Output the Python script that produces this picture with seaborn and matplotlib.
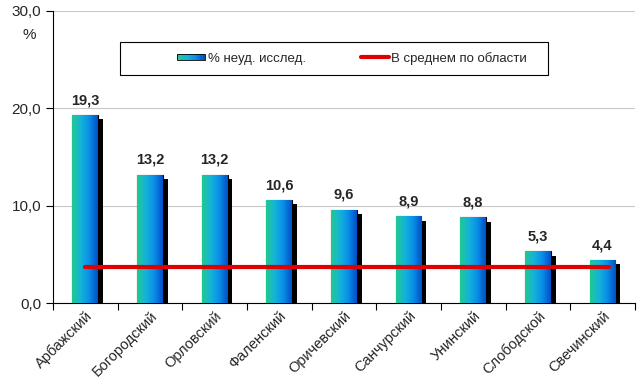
import numpy as np
import pandas as pd
import matplotlib
matplotlib.use('Agg')
import matplotlib.pyplot as plt
import seaborn as sns
from matplotlib.lines import Line2D
from matplotlib.patches import Rectangle
from matplotlib.colors import LinearSegmentedColormap
from matplotlib.legend_handler import HandlerBase
import matplotlib.patheffects as pe

# data
districts = ['Арбажский', 'Богородский', 'Орловский', 'Фаленский', 'Оричевский',
             'Санчурский', 'Унинский', 'Слободской', 'Свечинский']
values = [19.3, 13.2, 13.2, 10.6, 9.6, 8.9, 8.8, 5.3, 4.4]
region_avg = 3.7
bar_label = '% неуд. исслед.'
line_label = 'В среднем по области'

df = pd.DataFrame({'district': districts, 'value': values})

sns.set_style('white')
plt.rcParams['font.family'] = ['Liberation Sans', 'DejaVu Sans']

grad = LinearSegmentedColormap.from_list('grad', ['#22c890', '#14b4d8', '#0a8ee8', '#0050c8'])

fig = plt.figure(figsize=(6.38, 3.79), dpi=100)
ax = fig.add_axes([0.083, 0.2005, 0.912, 0.7705])

sns.barplot(data=df, x='district', y='value', ax=ax, width=0.4,
            color='#14b4d8', edgecolor='black', linewidth=0.8, zorder=3)

# gradient fill + shadow for each bar
gimg = np.linspace(0, 1, 64).reshape(1, -1)
for p in ax.patches:
    x0, y0 = p.get_x(), p.get_y()
    w, h = p.get_width(), p.get_height()
    p.set_path_effects([pe.SimplePatchShadow(offset=(3.5, -3), shadow_rgbFace='black', alpha=1.0), pe.Normal()])
    im = ax.imshow(gimg, cmap=grad, aspect='auto', extent=[x0, x0 + w, y0, y0 + h],
                   zorder=3.5, interpolation='bilinear')
    im.set_clip_path(p)

ax.set_xlim(-0.5, len(districts) - 0.5)
ax.set_ylim(0, 30)
ax.set_yticks([0, 10, 20, 30])
ax.set_yticklabels(['0,0', '10,0', '20,0', '30,0'], fontsize=11)
ax.yaxis.grid(True, color='#c8c8c8', linewidth=0.8, zorder=0)
ax.set_axisbelow(True)

# average line
ax.plot([0, len(districts) - 0.9], [region_avg, region_avg], color='#e00000', linewidth=3, zorder=5)

# value labels
for i, v in enumerate(values):
    ax.text(i, v + 0.8, f'{v:.1f}'.replace('.', ','), ha='center', va='bottom',
            fontsize=10.5, fontweight='bold', zorder=6)

ax.set_xlabel('')
ax.set_ylabel('')
ax.set_xticks(range(len(districts)))
ax.set_xticklabels(districts, rotation=45, ha='right', rotation_mode='anchor', fontsize=10.5)
ax.set_xticks(np.arange(-0.5, len(districts)), minor=True)
ax.tick_params(axis='x', which='major', length=0, pad=4)
ax.tick_params(axis='x', which='minor', length=5, width=0.8, color='black', direction='out', bottom=True)
ax.tick_params(axis='y', length=5, width=0.8, color='black', direction='out', left=True)
for s in ['top', 'right']:
    ax.spines[s].set_visible(False)
for s in ['left', 'bottom']:
    ax.spines[s].set_color('black')
    ax.spines[s].set_linewidth(0.8)

fig.text(0.046, 0.925, '%', fontsize=11, ha='center', va='top')


class GradHandler(HandlerBase):
    def create_artists(self, legend, orig, xd, yd, width, height, fontsize, trans):
        arts = []
        n = 12
        for k in range(n):
            r = Rectangle((xd + width * k / n, yd + height * 0.15), width / n + 0.3, height * 0.7,
                          facecolor=grad(k / (n - 1)), edgecolor='none', transform=trans)
            arts.append(r)
        arts.append(Rectangle((xd, yd + height * 0.15), width, height * 0.7, facecolor='none',
                              edgecolor='black', linewidth=0.6, transform=trans))
        return arts


# legend frame drawn separately (wide left padding as in the original)
fig.patches.append(Rectangle((0.188, 0.802), 0.671, 0.087, transform=fig.transFigure,
                             facecolor='white', edgecolor='black', linewidth=0.8, zorder=9))

bar_handle = Rectangle((0, 0), 1, 1)
line_handle = Line2D([0], [0], color='#e00000', linewidth=3)
leg = fig.legend([bar_handle, line_handle], [bar_label, line_label],
                 handler_map={Rectangle: GradHandler()}, ncol=2,
                 loc='center', bbox_to_anchor=(0.552, 0.846), fontsize=9.5,
                 frameon=False, handlelength=2.1, handletextpad=0.2, columnspacing=4.2,
                 borderpad=0.5)
leg.set_zorder(10)

fig.savefig('out.png', dpi=100)
